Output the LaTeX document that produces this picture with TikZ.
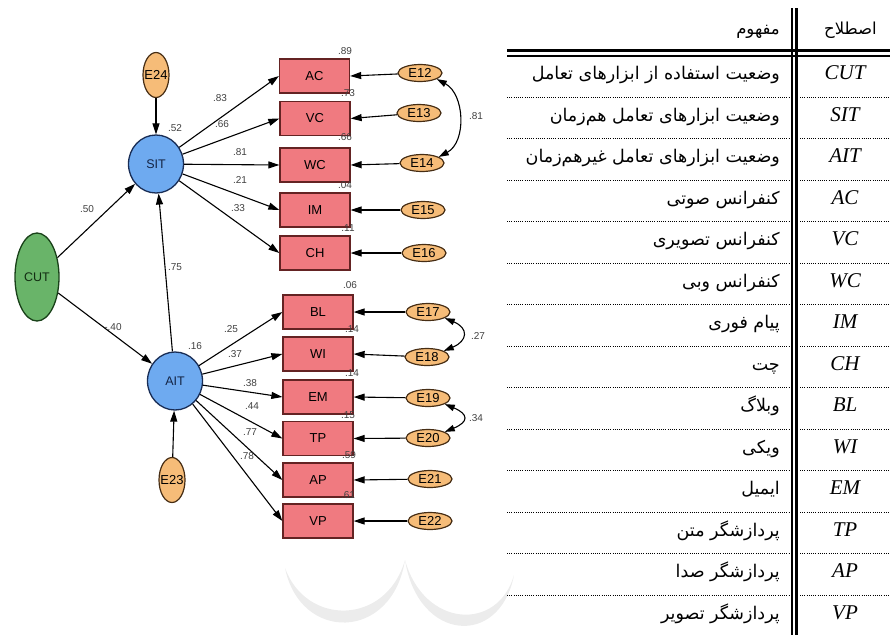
\documentclass[tikz,border=0pt]{standalone}
\usepackage{fontspec}
\setmainfont{Liberation Serif}
\newfontfamily\diagfont{Liberation Sans}
\newfontfamily\fafont[Script=Arabic]{DejaVu Sans}
\TeXXeTstate=1
\usetikzlibrary{shapes.geometric,arrows.meta}
\definecolor{rectfill}{RGB}{240,122,128}
\definecolor{rectdraw}{RGB}{100,35,35}
\definecolor{efill}{RGB}{246,188,120}
\definecolor{edraw}{RGB}{70,45,20}
\definecolor{bluefill}{RGB}{110,170,240}
\definecolor{bluedraw}{RGB}{25,45,85}
\definecolor{greenfill}{RGB}{105,180,105}
\definecolor{greendraw}{RGB}{25,65,25}
\definecolor{wmark}{RGB}{236,236,236}
\tikzset{
  obs/.style={draw=rectdraw, fill=rectfill, line width=1.3pt, minimum width=70pt, minimum height=34pt, inner sep=0pt, font=\diagfont\fontsize{13}{13}\selectfont},
  err/.style={ellipse, draw=edraw, fill=efill, line width=1.2pt, inner sep=0pt, font=\diagfont\fontsize{13}{13}\selectfont},
  errh/.style={err, minimum width=44pt, minimum height=17pt},
  errv/.style={err, minimum width=26pt, minimum height=45pt},
  lat/.style={ellipse, draw=bluedraw, fill=bluefill, line width=1.3pt, minimum width=55pt, minimum height=58pt, inner sep=0pt, text=bluedraw!80!black, font=\diagfont\fontsize{12.5}{12.5}\selectfont},
  exo/.style={ellipse, draw=greendraw, fill=greenfill, line width=1.3pt, minimum width=44pt, minimum height=88pt, inner sep=0pt, text=greendraw!70!black, font=\diagfont\fontsize{12.5}{12.5}\selectfont},
  pth/.style={line width=1.1pt, -{Triangle[length=11pt,width=7pt]}},
  cov/.style={line width=1.1pt, {Triangle[length=10pt,width=6.5pt]}-{Triangle[length=10pt,width=6.5pt]}},
  coef/.style={font=\diagfont\fontsize{10}{10}\selectfont, text=black!75, inner sep=0pt},
  term/.style={font=\itshape\fontsize{21}{21}\selectfont, inner sep=0pt, anchor=base},
  fa/.style={font=\fafont\fontsize{17.5}{17.5}\selectfont, inner sep=0pt, anchor=base east},
  fahead/.style={font=\fafont\fontsize{16.5}{16.5}\selectfont, inner sep=0pt, anchor=base east},
  dotl/.style={line width=0.9pt, dash pattern=on 0.9pt off 1.3pt},
}
\begin{document}
\begin{tikzpicture}[x=1pt,y=-1pt]
\useasboundingbox (0,0) rectangle (890,635);
% faint watermark
\fill[wmark] (285,568) .. controls (300,642) and (392,642) .. (405,560)
  .. controls (386,626) and (306,626) .. cycle;
\fill[wmark] (405,560) .. controls (418,642) and (500,648) .. (514,575)
  .. controls (498,632) and (424,628) .. cycle;
% ---------------- diagram ----------------
\node[errv] (E24) at (156,75) {\makebox[0pt]{E24}};
\node[lat] (SIT) at (156,164) {SIT};
\node[exo] (CUT) at (37,277) {CUT};
\node[lat] (AIT) at (175,381) {AIT};
\node[errv] (E23) at (172,480) {\makebox[0pt]{E23}};

\node[obs] (AC) at (314.5,76) {AC};
\node[obs] (VC) at (315,118.5) {VC};
\node[obs] (WC) at (315,165) {WC};
\node[obs] (IM) at (315,210) {IM};
\node[obs] (CH) at (315,253) {CH};
\node[obs] (BL) at (318,312) {BL};
\node[obs] (WI) at (318,354) {WI};
\node[obs] (EM) at (318,397) {EM};
\node[obs] (TP) at (318,438.5) {TP};
\node[obs] (AP) at (318,480) {AP};
\node[obs] (VP) at (318,521) {VP};

\node[errh] (E12) at (420,73) {\makebox[0pt]{E12}};
\node[errh] (E13) at (419,113) {\makebox[0pt]{E13}};
\node[errh] (E14) at (422,163) {\makebox[0pt]{E14}};
\node[errh] (E15) at (423,210) {\makebox[0pt]{E15}};
\node[errh] (E16) at (424,253) {\makebox[0pt]{E16}};
\node[errh] (E17) at (428,312) {\makebox[0pt]{E17}};
\node[errh] (E18) at (427,357) {\makebox[0pt]{E18}};
\node[errh] (E19) at (428,398) {\makebox[0pt]{E19}};
\node[errh] (E20) at (428,438) {\makebox[0pt]{E20}};
\node[errh] (E21) at (430,479) {\makebox[0pt]{E21}};
\node[errh] (E22) at (430,521) {\makebox[0pt]{E22}};

% structural paths
\draw[pth] (E24) -- (SIT);
\draw[pth] (E23) -- (AIT);
\draw[pth] (CUT) -- (SIT);
\draw[pth] (CUT) -- (AIT);
\draw[pth] (AIT) -- (SIT);
\foreach \r in {AC,VC,WC,IM,CH} {\draw[pth] (SIT) -- (\r.west);}
\foreach \r in {BL,WI,EM,TP,AP,VP} {\draw[pth] (AIT) -- (\r.west);}
% error paths
\draw[pth] (E12) -- (AC.east);
\draw[pth] (E13) -- (VC.east);
\draw[pth] (E14) -- (WC.east);
\draw[pth] (E15) -- (IM.east);
\draw[pth] (E16) -- (CH.east);
\draw[pth] (E17) -- (BL.east);
\draw[pth] (E18) -- (WI.east);
\draw[pth] (E19) -- (EM.east);
\draw[pth] (E20) -- (TP.east);
\draw[pth] (E21) -- (AP.east);
\draw[pth] (E22) -- (VP.east);
% covariances
\draw[cov] (E12.-20) .. controls +(28,15) and +(28,-15) .. (E14.20);
\draw[cov] (E17.-20) .. controls +(24,10) and +(24,-10) .. (E18.20);
\draw[cov] (E19.-20) .. controls +(24,10) and +(24,-10) .. (E20.20);

% coefficients
\node[coef] (c1) at (476,116) {.81};
\node[coef] (c2) at (478,336) {.27};
\node[coef] (c3) at (476,418) {.34};
\node[coef] (c4) at (175,128) {.52};
\node[coef] (c5) at (220,98) {.83};
\node[coef] (c6) at (222,124) {.66};
\node[coef] (c7) at (240,152) {.81};
\node[coef] (c8) at (240,180) {.21};
\node[coef] (c9) at (238,208) {.33};
\node[coef] (c10) at (87,209) {.50};
\node[coef] (c11) at (175,267) {.75};
\node[coef] (c12) at (113,327) {-.40};
\node[coef] (c13) at (195,346) {.16};
\node[coef] (c14) at (231,329) {.25};
\node[coef] (c15) at (235,354) {.37};
\node[coef] (c16) at (250,383) {.38};
\node[coef] (c17) at (252,406) {.44};
\node[coef] (c18) at (250,432) {.77};
\node[coef] (c19) at (247,456) {.78};
\node[coef] (r1) at (345,51) {.89};
\node[coef] (r2) at (348,93) {.73};
\node[coef] (r3) at (345,137) {.66};
\node[coef] (r4) at (345,185) {.04};
\node[coef] (r5) at (348,228) {.11};
\node[coef] (r6) at (350,285) {.06};
\node[coef] (r7) at (352,329) {.14};
\node[coef] (r8) at (352,373) {.14};
\node[coef] (r9) at (348,415) {.15};
\node[coef] (r10) at (349,455) {.59};
\node[coef] (r11) at (348,495) {.61};

% ---------------- table ----------------
\draw[line width=2pt] (792,8) -- (792,635);
\draw[line width=3pt] (796.5,8) -- (796.5,635);
\draw[line width=3.5pt] (507,50.5) -- (890,50.5);
\draw[line width=2pt] (507,55.5) -- (890,55.5);
\foreach \k in {0,...,12} {
  \draw[dotl] (507,{97+41.5*\k}) -- (790,{97+41.5*\k});
  \draw[dotl] (800,{97+41.5*\k}) -- (890,{97+41.5*\k});
}
\node[fahead] (hA) at (877,34) {\beginR اصطلاح\endR};
\node[fahead] (hB) at (780,34) {\beginR مفهوم\endR};

\node[term] (t0) at (845,79.5) {CUT};
\node[term] (t1) at (845,121) {SIT};
\node[term] (t2) at (845,162.5) {AIT};
\node[term] (t3) at (845,204) {AC};
\node[term] (t4) at (845,245.5) {VC};
\node[term] (t5) at (845,287) {WC};
\node[term] (t6) at (845,328.5) {IM};
\node[term] (t7) at (845,370) {CH};
\node[term] (t8) at (845,411.5) {BL};
\node[term] (t9) at (845,453) {WI};
\node[term] (t10) at (845,494.5) {EM};
\node[term] (t11) at (845,536) {TP};
\node[term] (t12) at (845,577.5) {AP};
\node[term] (t13) at (845,619) {VP};

\node[fa] (f0) at (780,79.5) {\beginR وضعیت استفاده از ابزارهای تعامل\endR};
\node[fa] (f1) at (780,121) {\beginR وضعیت ابزارهای تعامل هم‌زمان\endR};
\node[fa] (f2) at (780,162.5) {\beginR وضعیت ابزارهای تعامل غیرهم‌زمان\endR};
\node[fa] (f3) at (780,204) {\beginR کنفرانس صوتی\endR};
\node[fa] (f4) at (780,245.5) {\beginR کنفرانس تصویری\endR};
\node[fa] (f5) at (780,287) {\beginR کنفرانس وبی\endR};
\node[fa] (f6) at (780,328.5) {\beginR پیام فوری\endR};
\node[fa] (f7) at (780,370) {\beginR چت\endR};
\node[fa] (f8) at (780,411.5) {\beginR وبلاگ\endR};
\node[fa] (f9) at (780,453) {\beginR ویکی\endR};
\node[fa] (f10) at (780,494.5) {\beginR ایمیل\endR};
\node[fa] (f11) at (780,536) {\beginR پردازشگر متن\endR};
\node[fa] (f12) at (780,577.5) {\beginR پردازشگر صدا\endR};
\node[fa] (f13) at (780,619) {\beginR پردازشگر تصویر\endR};
\end{tikzpicture}
\end{document}
